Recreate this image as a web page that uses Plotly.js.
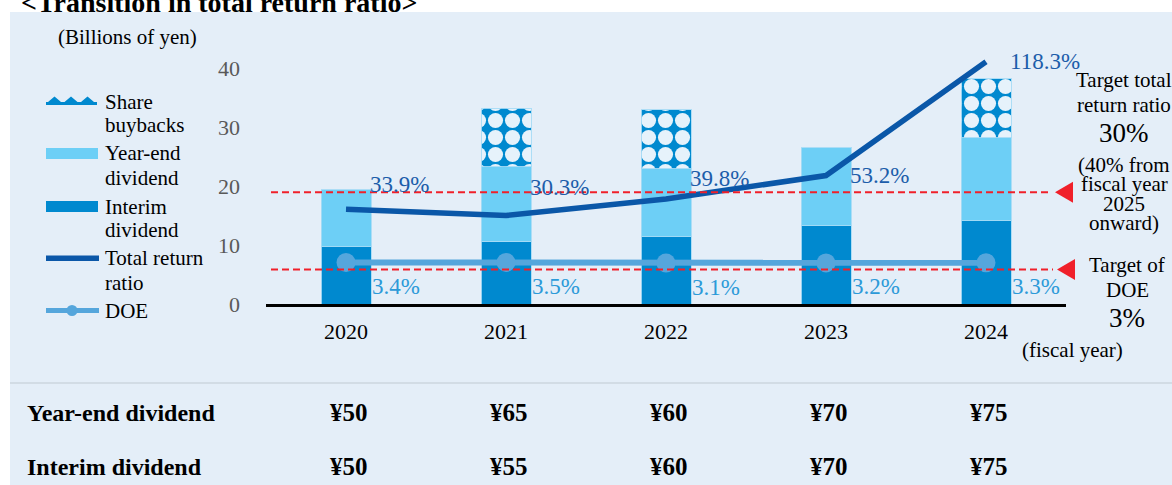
<!DOCTYPE html>
<html>
<head>
<meta charset="utf-8">
<script src="https://cdn.plot.ly/plotly-3.0.1.min.js"></script>
<style>html,body{margin:0;padding:0;background:#fff;}#chart{width:1172px;height:485px;}</style>
</head>
<body>
<div id="chart"></div>
<script>
// ---- data ----
const years = ['2020', '2021', '2022', '2023', '2024'];
const interimDividend = [9.7, 10.6, 11.4, 13.3, 14.1];
const yearEndDividend = [9.7, 12.7, 11.5, 13.2, 14.1];
const shareBuybacks = [null, 9.9, 10.0, null, 10.0];
const totalReturnRatio = [33.9, 30.3, 39.8, 53.2, 118.3];
const doe = [3.4, 3.5, 3.1, 3.2, 3.3];
const yTicks = [0, 10, 20, 30, 40];
const yearEndPerShare = ['¥50', '¥65', '¥60', '¥70', '¥75'];
const interimPerShare = ['¥50', '¥55', '¥60', '¥70', '¥75'];
const seriesNames = ['Share<br>buybacks', 'Year-end<br>dividend', 'Interim<br>dividend', 'Total return<br>ratio', 'DOE'];
const tableRowLabels = ['Year-end dividend', 'Interim dividend'];
const chartTitle = '&lt;Transition in total return ratio&gt;';
const unitLabel = '(Billions of yen)';
const xUnitLabel = '(fiscal year)';
const targetTrrLines = ['Target total', 'return ratio', '30%', '(40% from', 'fiscal year', '2025', 'onward)'];
const targetDoeLines = ['Target of', 'DOE', '3%'];

// ---- layout helpers (pixel -> paper) ----
const L = 266, R = 1066, T = 44, B = 304;
const px = x => (x - L) / (R - L);
const py = y => (B - y) / (B - T);
const SERIF = '"Liberation Serif","Times New Roman",serif';

const C_INTERIM = '#0089CF', C_YEAREND = '#6DCFF6', C_TRR = '#0A57A8', C_DOE = '#55A6DC';
const C_TRR_LBL = '#1C5DAA', C_DOE_LBL = '#2C9AD8', C_RED = '#F0202A';
const barLine = {color: 'rgba(165,218,245,0.9)', width: 1};

const traces = [
  {type: 'bar', name: seriesNames[2], x: years, y: interimDividend, width: 0.3125,
   marker: {color: C_INTERIM, line: barLine}, hoverinfo: 'skip'},
  {type: 'bar', name: seriesNames[1], x: years, y: yearEndDividend, width: 0.3125,
   marker: {color: C_YEAREND, line: barLine}, hoverinfo: 'skip'},
  {type: 'bar', name: seriesNames[0], x: years, y: shareBuybacks, width: 0.3125,
   marker: {color: C_INTERIM, line: barLine,
     pattern: {shape: '.', fgcolor: '#E6F2FB', bgcolor: C_INTERIM, size: 17, solidity: 0.62, fillmode: 'replace'}},
   hoverinfo: 'skip'},
  {type: 'scatter', mode: 'lines', name: seriesNames[3], x: years, y: totalReturnRatio, yaxis: 'y2',
   line: {color: C_TRR, width: 5.5}, hoverinfo: 'skip'},
  {type: 'scatter', mode: 'lines+markers', name: seriesNames[4], x: years, y: doe, yaxis: 'y2',
   line: {color: C_DOE, width: 6}, marker: {color: C_DOE, size: 19}, hoverinfo: 'skip'}
];

const shapes = [];
const annotations = [];

// panel background
shapes.push({type: 'rect', xref: 'paper', yref: 'paper', x0: px(10), x1: px(1172), y0: py(12), y1: py(485),
  fillcolor: '#E4EEF8', line: {width: 0}, layer: 'below'});
// separator above table
shapes.push({type: 'line', xref: 'paper', yref: 'paper', x0: px(10), x1: px(1172), y0: py(383), y1: py(383),
  line: {color: '#CDD6DF', width: 1.5}, layer: 'below'});
// red target lines + arrowheads
[[192.3, 1055], [269.5, 1057]].forEach(([yy, tip]) => {
  shapes.push({type: 'line', xref: 'paper', yref: 'paper', x0: px(271), x1: px(tip - 4), y0: py(yy), y1: py(yy),
    line: {color: C_RED, width: 2, dash: '7px,4px'}, layer: 'above'});
  shapes.push({type: 'path', xref: 'paper', yref: 'paper',
    path: `M${px(tip)},${py(yy)} L${px(tip + 18)},${py(yy - 10.5)} L${px(tip + 18)},${py(yy + 10.5)} Z`,
    fillcolor: C_RED, line: {width: 0}, layer: 'above'});
});

// ---- custom legend ----
const legX0 = 46, legX1 = 98;
const bumps = [[46,105],[46,102],[48,102],[54.5,96.5],[61,102],[64.5,102],[71,96.5],[77.5,102],[81,102],[87.5,96.5],[94,102],[97,102],[97,105]];
shapes.push({type: 'path', xref: 'paper', yref: 'paper',
  path: 'M' + bumps.map(p => px(p[0]) + ',' + py(p[1])).join(' L') + ' Z',
  fillcolor: C_INTERIM, line: {width: 0}});
shapes.push({type: 'rect', xref: 'paper', yref: 'paper', x0: px(legX0), x1: px(legX1), y0: py(159), y1: py(148),
  fillcolor: C_YEAREND, line: {width: 0}});
shapes.push({type: 'rect', xref: 'paper', yref: 'paper', x0: px(legX0), x1: px(legX1), y0: py(212), y1: py(201),
  fillcolor: C_INTERIM, line: {width: 0}});
shapes.push({type: 'line', xref: 'paper', yref: 'paper', x0: px(46), x1: px(99), y0: py(258.3), y1: py(258.3),
  line: {color: C_TRR, width: 5.5}});
shapes.push({type: 'line', xref: 'paper', yref: 'paper', x0: px(46), x1: px(99), y0: py(310.5), y1: py(310.5),
  line: {color: C_DOE, width: 5}});
shapes.push({type: 'circle', xref: 'paper', yref: 'paper', x0: px(66.5), x1: px(77.5), y0: py(316), y1: py(305),
  fillcolor: C_DOE, line: {width: 0}});

const legendLineY = [[101.5, 125], [153.3, 177.5], [206.5, 230], [258.3, 282.5], [310.7]];
seriesNames.forEach((nm, i) => {
  nm.split('<br>').forEach((ln, j) => {
    annotations.push({xref: 'paper', yref: 'paper', x: px(103), y: py(legendLineY[i][j]), xanchor: 'left', yanchor: 'middle',
      text: ln, showarrow: false, font: {family: SERIF, size: 21, color: '#000'}});
  });
});

// title (cut at top) and unit label
annotations.push({xref: 'paper', yref: 'paper', x: px(19), y: py(2.5), xanchor: 'left', yanchor: 'middle',
  text: '<b>' + chartTitle + '</b>', showarrow: false, font: {family: SERIF, size: 28, color: '#000'}});
annotations.push({xref: 'paper', yref: 'paper', x: px(127.5), y: py(37), xanchor: 'center', yanchor: 'middle',
  text: unitLabel, showarrow: false, font: {family: SERIF, size: 21, color: '#000'}});
annotations.push({xref: 'paper', yref: 'paper', x: px(1072), y: py(350), xanchor: 'center', yanchor: 'middle',
  text: xUnitLabel, showarrow: false, font: {family: SERIF, size: 21, color: '#000'}});

// right-side target texts
const trrY = [80, 105, 133, 165, 184, 204, 223];
targetTrrLines.forEach((t, i) => {
  annotations.push({xref: 'paper', yref: 'paper', x: px(1124), y: py(trrY[i]), xanchor: 'center', yanchor: 'middle',
    text: t, showarrow: false, font: {family: SERIF, size: i === 2 ? 27 : 21, color: '#000'}});
});
const doeY = [265, 290, 318];
targetDoeLines.forEach((t, i) => {
  annotations.push({xref: 'paper', yref: 'paper', x: px(1127), y: py(doeY[i]), xanchor: 'center', yanchor: 'middle',
    text: t, showarrow: false, font: {family: SERIF, size: i === 2 ? 27 : 21, color: '#000'}});
});

// data labels (category index positions)
const trrLabelShift = [25, 28, 20, 0, 0];
years.forEach((yr, i) => {
  annotations.push({xref: 'x', yref: 'y2', x: i, y: totalReturnRatio[i], xanchor: 'left', yanchor: 'middle',
    xshift: 22, yshift: trrLabelShift[i], text: totalReturnRatio[i].toFixed(1) + '%', showarrow: false,
    font: {family: SERIF, size: 23, color: C_TRR_LBL}});
  annotations.push({xref: 'x', yref: 'y2', x: i, y: doe[i], xanchor: 'left', yanchor: 'middle',
    xshift: 24, yshift: -24, text: doe[i].toFixed(1) + '%', showarrow: false,
    font: {family: SERIF, size: 23, color: C_DOE_LBL}});
});

// table rows
[[yearEndPerShare, 412.5], [interimPerShare, 466.5]].forEach(([vals, yy], r) => {
  annotations.push({xref: 'paper', yref: 'paper', x: px(25), y: py(yy), xanchor: 'left', yanchor: 'middle',
    text: '<b>' + tableRowLabels[r] + '</b>', showarrow: false, font: {family: SERIF, size: 24, color: '#000'}});
  years.forEach((yr, i) => {
    annotations.push({xref: 'x', yref: 'paper', x: i, y: py(yy), xanchor: 'center', yanchor: 'middle', xshift: 3,
      text: '<b>' + vals[i] + '</b>', showarrow: false, font: {family: SERIF, size: 25, color: '#000'}});
  });
});

const layout = {
  width: 1172, height: 485,
  margin: {l: L, r: 1172 - R, t: T, b: 485 - B, pad: 0},
  paper_bgcolor: '#ffffff', plot_bgcolor: 'rgba(0,0,0,0)',
  barmode: 'stack', showlegend: false,
  font: {family: SERIF, size: 21, color: '#000'},
  xaxis: {type: 'category', categoryorder: 'array', categoryarray: years, range: [-0.5, 4.5], autorange: false,
    showline: true, linecolor: '#000', linewidth: 2.5, ticks: '',
    tickfont: {family: SERIF, size: 22, color: '#000'}, ticklabelstandoff: 6,
    showgrid: false, zeroline: false, fixedrange: true},
  yaxis: {range: [0, 44.07], autorange: false, tickmode: 'array', tickvals: yTicks, ticktext: yTicks.map(String),
    showgrid: false, zeroline: false, showline: false, ticks: '',
    tickfont: {family: SERIF, size: 22, color: '#595959'}, ticklabelstandoff: 25, fixedrange: true},
  yaxis2: {overlaying: 'y', side: 'right', range: [-20.31, 128.43], autorange: false, visible: false, fixedrange: true},
  shapes: shapes,
  annotations: annotations
};

Plotly.newPlot('chart', traces, layout, {displayModeBar: false, staticPlot: true});
</script>
</body>
</html>
